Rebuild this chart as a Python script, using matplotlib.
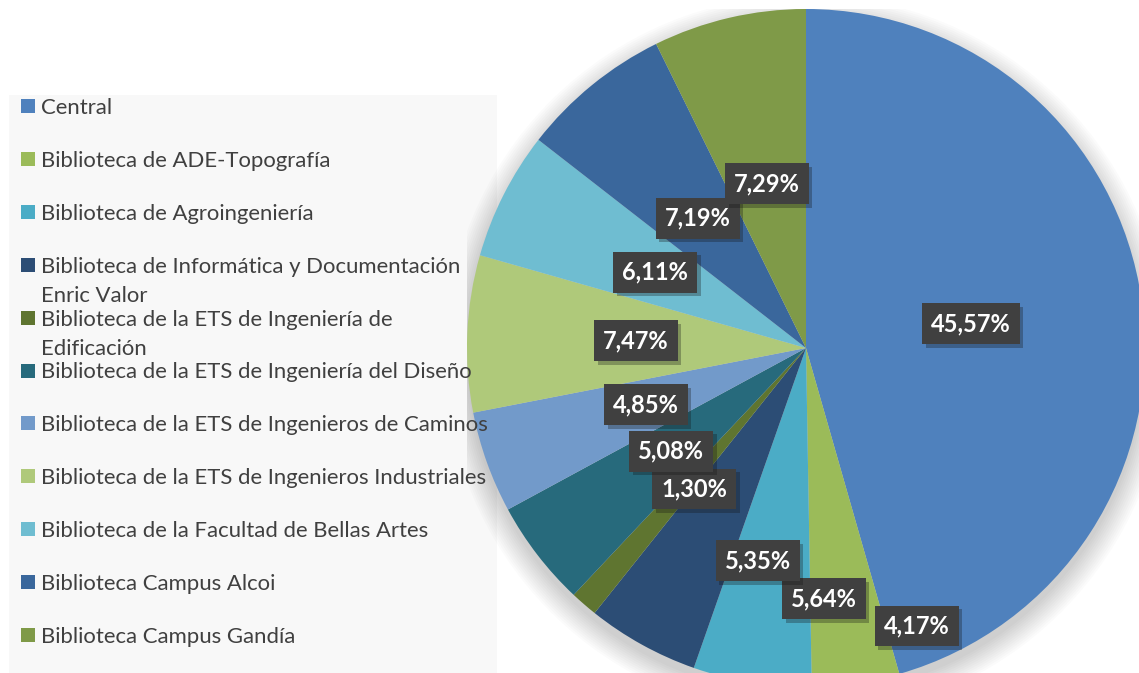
import matplotlib
matplotlib.use("Agg")
import matplotlib.pyplot as plt
import matplotlib.patheffects as pe
from matplotlib.patches import Rectangle, Circle

# data
libraries = [
    "Central",
    "Biblioteca de ADE-Topografía",
    "Biblioteca de Agroingeniería",
    "Biblioteca de Informática y Documentación\nEnric Valor",
    "Biblioteca de la ETS de Ingeniería de\nEdificación",
    "Biblioteca de la ETS de Ingeniería del Diseño",
    "Biblioteca de la ETS de Ingenieros de Caminos",
    "Biblioteca de la ETS de Ingenieros Industriales",
    "Biblioteca de la Facultad de Bellas Artes",
    "Biblioteca Campus Alcoi",
    "Biblioteca Campus Gandía",
]
shares = [45.57, 4.17, 5.64, 5.35, 1.30, 5.08, 4.85, 7.47, 6.11, 7.19, 7.29]

colors = ["#4F81BD", "#9BBB59", "#4BACC6", "#2C4D75", "#5F7530", "#276A7C",
          "#729ACA", "#AFC97A", "#6FBDD1", "#3A679C", "#7F9A48"]

# where Excel put the data labels (pie radius units)
label_xy = [(0.487, 0.071), (0.327, -0.820), (0.053, -0.740), (-0.142, -0.628),
            (-0.330, -0.416), (-0.398, -0.304), (-0.472, -0.168), (-0.501, 0.021),
            (-0.445, 0.224), (-0.319, 0.383), (-0.115, 0.484)]

W, H = 1139, 673
fig = plt.figure(figsize=(W / 100, H / 100), dpi=100)
fig.patch.set_facecolor("white")

def pixel_axes(z):
    a = fig.add_axes([0, 0, 1, 1], zorder=z)
    a.set_xlim(0, W)
    a.set_ylim(H, 0)
    a.axis("off")
    a.patch.set_alpha(0)
    return a

# legend background sits under the pie, legend entries above it
bg = pixel_axes(0)
bg.add_patch(Rectangle((9, 95), 488, 590, facecolor="#F8F8F8", edgecolor="none"))

lax = pixel_axes(2)
step = 52.9
for i, (name, c) in enumerate(zip(libraries, colors)):
    y = 106 + i * step
    lax.add_patch(Rectangle((21, y - 7), 14, 14, facecolor=c, edgecolor="none"))
    for j, line in enumerate(name.split("\n")):
        lax.text(41, y + 8 + j * 29, line, fontsize=15.9, family="Lato",
                 color="#404040", va="baseline", ha="left")

# pie
cx, cy, r = 806, 348, 339
ax = fig.add_axes([(cx - r) / W, (H - cy - r) / H, 2 * r / W, 2 * r / H], zorder=1)
ax.patch.set_alpha(0)

# soft shadow
for k in range(12):
    ax.add_patch(Circle((0.0, -0.025), 1.0 + 0.006 * k, facecolor="#000000",
                        alpha=0.016, edgecolor="none", zorder=0))

wedges, _ = ax.pie(shares, colors=colors, startangle=90, counterclock=False,
                   radius=1, wedgeprops=dict(linewidth=0))
for w in wedges:
    w.set_zorder(1)
ax.set_xlim(-1, 1)
ax.set_ylim(-1, 1)
ax.set_aspect("equal")
ax.axis("off")

for val, (x, y) in zip(shares, label_xy):
    t = ax.text(x, y, f"{val:.2f}%".replace(".", ","), ha="center", va="center",
                fontsize=17, family="Lato", fontweight="bold", color="white",
                zorder=5,
                bbox=dict(boxstyle="square,pad=0.38", facecolor="#404040",
                          edgecolor="none"))
    t.get_bbox_patch().set_path_effects(
        [pe.SimplePatchShadow(offset=(2.5, -2.5), alpha=0.3), pe.Normal()])

fig.savefig("out.png", dpi=100)
